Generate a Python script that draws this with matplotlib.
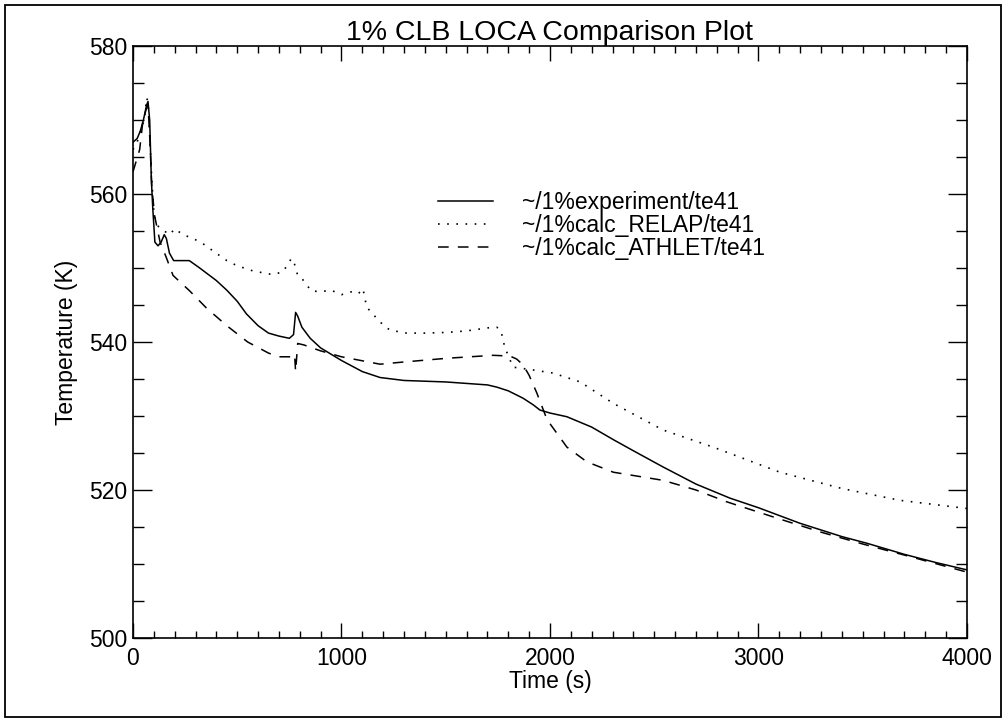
import matplotlib
matplotlib.use("Agg")
import matplotlib.pyplot as plt
from matplotlib.patches import Rectangle
from matplotlib.ticker import MultipleLocator

plt.rcParams['font.family'] = ['Liberation Sans', 'DejaVu Sans']

title = "1% CLB LOCA Comparison Plot"
xlabel = "Time (s)"
ylabel = "Temperature (K)"
labels = ["~/1%experiment/te41", "~/1%calc_RELAP/te41", "~/1%calc_ATHLET/te41"]

# Experiment (solid)
t_exp = [0, 20, 35, 50, 65, 72, 80, 88, 95, 105, 120, 135, 150, 160, 175, 195, 270, 320,
         400, 450, 500, 544, 600, 650, 700, 750, 770, 780, 790, 810, 850, 900, 1000, 1100,
         1185, 1300, 1400, 1500, 1600, 1700, 1745, 1800, 1871, 1920, 1952, 2000, 2081, 2200,
         2304, 2400, 2543, 2700, 2863, 3000, 3199, 3400, 3520, 3700, 3850, 4000]
T_exp = [567, 567.5, 568.5, 570, 572, 572.5, 570, 562, 558, 553.5, 553, 553.5, 554.5, 554, 552,
         551, 551, 550, 548.3, 547, 545.5, 543.8, 542.2, 541.2, 540.8, 540.5, 541, 544, 543.5,
         542, 540.5, 539.2, 537.5, 536, 535.2, 534.8, 534.7, 534.6, 534.4, 534.2, 533.9, 533.4,
         532.4, 531.5, 530.8, 530.4, 529.9, 528.5, 526.8, 525.3, 523.1, 520.8, 518.9, 517.6,
         515.5, 513.7, 512.8, 511.3, 510.2, 509.2]

# RELAP (dotted)
t_rel = [0, 20, 40, 55, 65, 72, 80, 90, 100, 112, 125, 150, 176, 200, 240, 288, 340, 384,
         450, 500, 576, 671, 720, 760, 775, 790, 807, 855, 900, 950, 1000, 1050, 1080, 1103,
         1121, 1185, 1232, 1313, 1400, 1510, 1600, 1700, 1745, 1765, 1783, 1823, 1900, 2015,
         2145, 2304, 2543, 2782, 3103, 3400, 3679, 4000]
T_rel = [566, 567, 569, 570, 573, 572.5, 568, 562, 557.5, 556, 555.5, 555, 554.5, 555.3, 554.5,
         554, 553.2, 552.3, 551, 550.3, 549.6, 549.1, 549.5, 551.3, 550.5, 549, 548.7, 546.9,
         546.8, 547, 546.4, 546.8, 546.5, 547.2, 544.7, 542.7, 541.6, 541.2, 541.2, 541.3,
         541.5, 541.9, 542, 541.5, 539.3, 536.6, 536.3, 535.8, 534.6, 531.7, 528.1, 525.8,
         522.4, 520.2, 518.6, 517.5]

# ATHLET (dashed)
t_ath = [0, 16, 32, 48, 64, 72, 80, 90, 104, 130, 160, 192, 272, 352, 450, 550, 650, 700,
         760, 775, 780, 790, 820, 900, 1000, 1185, 1300, 1506, 1727, 1808, 1840, 1871, 1900,
         1937, 1986, 2081, 2177, 2304, 2543, 2700, 2848, 3088, 3300, 3500, 3700, 4000]
T_ath = [563, 564.5, 566, 570, 571.5, 572, 568, 561, 557, 553.5, 551.4, 549, 546.9, 544.6,
         542.2, 540, 538.5, 538, 538, 538.3, 536, 539.8, 539.6, 538.8, 538, 537, 537.3, 537.8,
         538.2, 538.1, 537.7, 536.9, 535.5, 533.1, 529.5, 525.8, 523.8, 522.4, 521.3, 520,
         518.4, 516.2, 514.3, 512.7, 511.2, 508.9]

fig = plt.figure(figsize=(10.06, 7.19), dpi=100)
ax = fig.add_axes([0.1322, 0.1127, 0.8290, 0.8233])

ax.plot(t_exp, T_exp, color='black', lw=1.1, ls='-', label=labels[0])
ax.plot(t_rel, T_rel, color='black', lw=1.2, ls=(0, (1, 4.5)), label=labels[1])
ax.plot(t_ath, T_ath, color='black', lw=1.1, ls=(0, (7, 6)), label=labels[2])

ax.set_xlim(0, 4000)
ax.set_ylim(500, 580)
ax.xaxis.set_major_locator(MultipleLocator(1000))
ax.xaxis.set_minor_locator(MultipleLocator(100))
ax.yaxis.set_major_locator(MultipleLocator(20))
ax.yaxis.set_minor_locator(MultipleLocator(5))
ax.tick_params(axis='both', which='both', direction='in', top=True, right=True,
               labelsize=16.5, width=1.0)
ax.tick_params(axis='x', which='both', pad=6.5)
ax.tick_params(axis='y', which='both', pad=4)
ax.tick_params(axis='x', which='major', length=11)
ax.tick_params(axis='x', which='minor', length=5)
ax.tick_params(axis='y', which='major', length=14)
ax.tick_params(axis='y', which='minor', length=8)
for s in ax.spines.values():
    s.set_linewidth(1.2)

ax.set_title(title, fontsize=20.5, pad=3)
ax.set_xlabel(xlabel, fontsize=16.5, labelpad=0)
ax.set_ylabel(ylabel, fontsize=16.5, labelpad=8)

leg = ax.legend(loc='upper left', bbox_to_anchor=(0.366, 0.755), frameon=False,
                fontsize=16.5, handlelength=2.4, handletextpad=1.25, labelspacing=0.0,
                borderpad=0, borderaxespad=0)

fig.patches.append(Rectangle((0.005, 0.003), 0.99, 0.99, transform=fig.transFigure,
                             fill=False, edgecolor='black', lw=1.3))

fig.savefig("out.png", dpi=100)
